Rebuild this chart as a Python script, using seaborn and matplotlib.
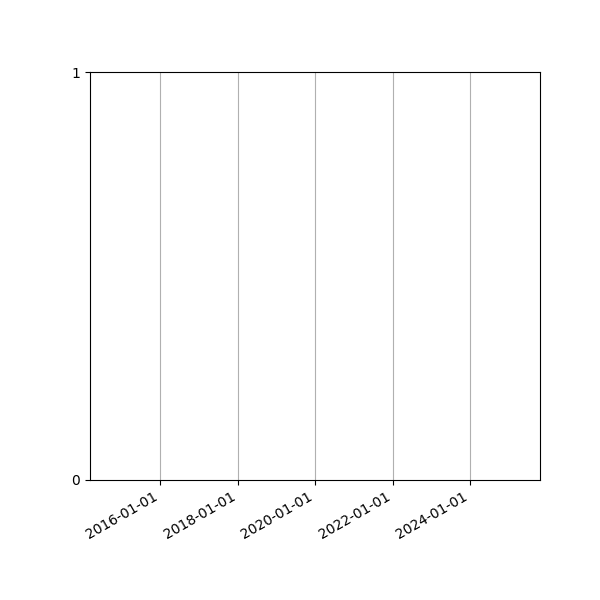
import pandas as pd
import numpy as np
import matplotlib
matplotlib.use("Agg")
import matplotlib.pyplot as plt
import matplotlib.dates as mdates
import seaborn as sns

# no series in the chart, only the axis frame
dates = []
values = []
tick_dates = ["2016-01-01", "2018-01-01", "2020-01-01", "2022-01-01", "2024-01-01"]
x_start = "2014-03-10"
x_end = "2025-10-22"
y_ticks = [0, 1]

sns.set_style("white")
plt.rcParams['font.family'] = ['DejaVu Sans']

df = pd.DataFrame({"date": pd.to_datetime(dates), "value": pd.Series(values, dtype=float)})

fig, ax = plt.subplots(figsize=(6, 6), dpi=100)
sns.lineplot(data=df, x="date", y="value", ax=ax)

ax.set_xlim(pd.Timestamp(x_start), pd.Timestamp(x_end))
ax.set_ylim(y_ticks[0], y_ticks[-1])
ax.set_xticks(pd.to_datetime(tick_dates))
ax.xaxis.set_major_formatter(mdates.DateFormatter("%Y-%m-%d"))
ax.set_yticks(y_ticks)
ax.set_xlabel("")
ax.set_ylabel("")
ax.grid(axis="x", color="#b0b0b0", linewidth=0.8)
ax.grid(axis="y", visible=False)
ax.tick_params(axis="both", length=3.5, width=0.8, colors="black", labelsize=10, bottom=True, left=True)
for s in ax.spines.values():
    s.set_color("black")
    s.set_linewidth(0.8)
    s.set_visible(True)

fig.autofmt_xdate()
fig.subplots_adjust(left=0.15, right=0.9, top=0.88, bottom=0.2)
fig.savefig("out.png", dpi=100)
